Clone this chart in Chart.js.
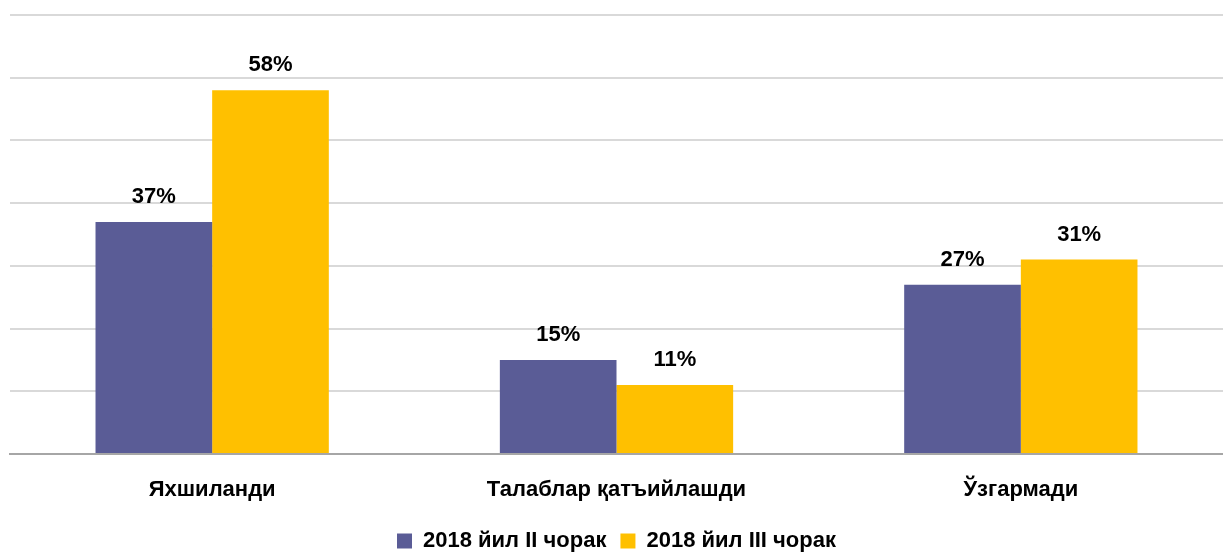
<!DOCTYPE html>
<html>
<head>
<meta charset="utf-8">
<script src="https://cdn.jsdelivr.net/npm/chart.js@4"></script>
<style>
  body { margin: 0; background: #fff; }
  #wrap { width: 1223px; height: 553px; }
</style>
</head>
<body>
<div id="wrap"><canvas id="myChart"></canvas></div>
<script>
// categories and series
const categories = ["Яхшиланди", "Талаблар қатъийлашди", "Ўзгармади"];
const seriesNames = ["2018 йил II чорак", "2018 йил III чорак"];
const q2Values = [37, 15, 27];
const q3Values = [58, 11, 31];
const colors = ["#5A5C96", "#FFC000"];

const fontFam = "'Liberation Sans Narrow', 'Arial Narrow', 'Liberation Sans', sans-serif";

// draw value labels above the bars
const valueLabels = {
  id: "valueLabels",
  afterDatasetsDraw(chart) {
    const ctx = chart.ctx;
    ctx.save();
    ctx.font = "bold 22px " + fontFam;
    ctx.fillStyle = "#000";
    ctx.textAlign = "center";
    ctx.textBaseline = "bottom";
    chart.data.datasets.forEach((ds, i) => {
      chart.getDatasetMeta(i).data.forEach((bar, j) => {
        ctx.fillText(ds.data[j] + "%", bar.x, bar.y - 14);
      });
    });
    ctx.restore();
  }
};

// make the legend box shorter so it sits lower
const shortLegend = {
  id: "shortLegend",
  beforeUpdate(chart) {
    const lg = chart.legend;
    if (lg && !lg._shortened) {
      const orig = lg.fit;
      lg.fit = function () {
        orig.call(this);
        this.height -= 9;
      };
      lg._shortened = true;
    }
  }
};

let ctx = document.getElementById("myChart").getContext("2d");
let myChart = new Chart(ctx, {
  type: "bar",
  data: {
    labels: categories,
    datasets: [
      { label: seriesNames[0], data: q2Values, backgroundColor: colors[0] },
      { label: seriesNames[1], data: q3Values, backgroundColor: colors[1] }
    ]
  },
  options: {
    responsive: true,
    maintainAspectRatio: false,
    animation: false,
    layout: { padding: { left: 10, top: 15, right: 0, bottom: 0 } },
    datasets: { bar: { barPercentage: 1, categoryPercentage: 0.577 } },
    scales: {
      x: {
        grid: { display: false },
        border: { color: "#a6a6a6", width: 2 },
        ticks: { padding: 15, color: "#000", font: { family: fontFam, size: 22, weight: "bold" } },
        afterFit: (scale) => { scale.height = 62; }
      },
      y: {
        min: 0,
        max: 70,
        ticks: { display: false, stepSize: 10 },
        border: { display: false },
        grid: { color: "#d9d9d9", lineWidth: 2, drawTicks: false }
      }
    },
    plugins: {
      legend: {
        position: "bottom",
        labels: {
          color: "#000",
          boxWidth: 15,
          boxHeight: 15,
          padding: 14,
          font: { family: fontFam, size: 22, weight: "bold" }
        }
      },
      tooltip: { enabled: false }
    }
  },
  plugins: [valueLabels, shortLegend]
});
</script>
</body>
</html>
